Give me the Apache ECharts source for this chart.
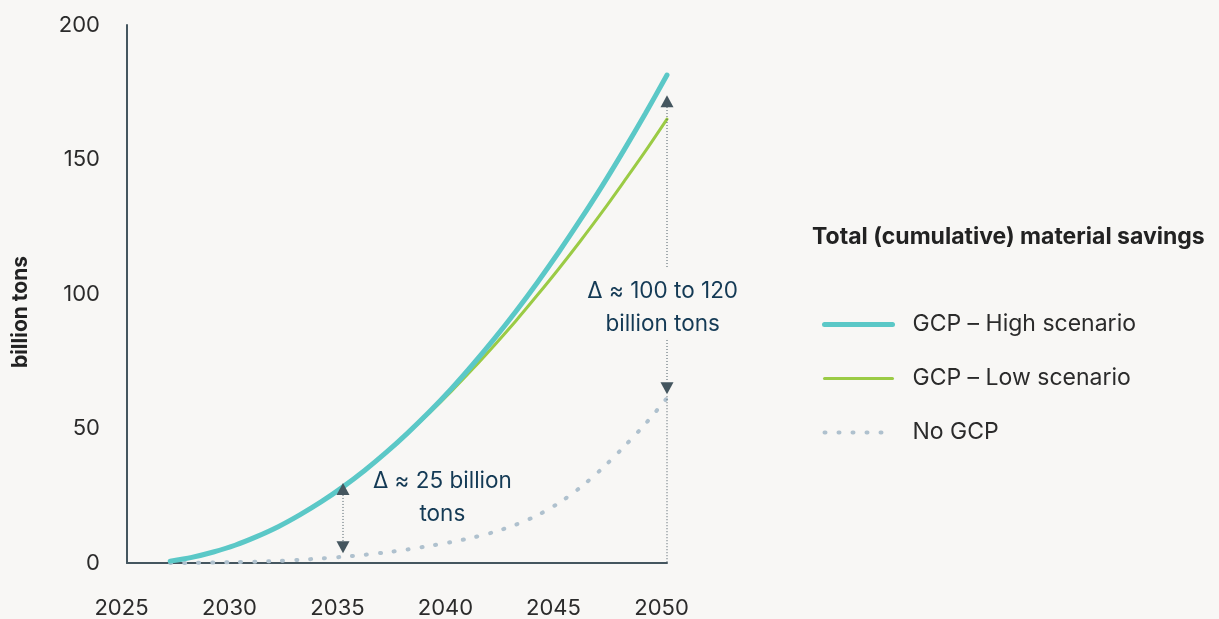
<!DOCTYPE html>
<html>
<head>
<meta charset="utf-8">
<script src="https://cdn.jsdelivr.net/npm/echarts@6/dist/echarts.min.js"></script>
<style>
html,body{margin:0;padding:0;background:#F8F7F5;}
#chart{width:1219px;height:619px;}
</style>
</head>
<body>
<div id="chart"></div>
<script>
// ---- data ----
const years = [2027,2028,2029,2030,2031,2032,2033,2034,2035,2036,2037,2038,2039,2040,2041,2042,2043,2044,2045,2046,2047,2048,2049,2050];
const highScenario = [0.7,2.1,4.1,6.6,9.8,13.5,17.9,22.8,28.3,34.4,41.1,48.4,56.2,64.6,73.7,83.3,93.5,104.3,115.7,127.7,140.2,153.4,167.1,181.4];
const lowScenario  = [0.7,2.1,4.1,6.6,9.8,13.5,17.9,22.8,28.3,34.4,41.1,48.3,55.8,63.7,72.1,80.9,90.0,99.6,109.5,119.8,130.5,141.7,153.1,165.0];
const noGcp        = [0,0.05,0.15,0.3,0.5,0.8,1.2,1.7,2.3,3.05,3.95,5.05,6.35,7.75,9.45,11.55,14.25,17.75,22.35,28.15,35.15,43.15,51.75,61.3];
const xTicks = [2025, 2050, 5];
const yTicks = [0, 200, 50];
const seriesNames = ['GCP – High scenario', 'GCP – Low scenario', 'No GCP'];
const legendTitle = 'Total (cumulative) material savings';
const yTitle = 'billion tons';
// annotations (data coordinates)
const arrowX = [2035, 2050];
const arrowUp = [27.5, 171.7];
const arrowDown = [5.9, 65.0];
const leader2035 = [[2035, 25.3], [2035, 8.2]];
const leader2050 = [[2050, 169.5], [2050, 109.7], [2050, '-'], [2050, 82.9], [2050, 67.3], [2050, '-'], [2050, 62], [2050, 0]];
const annotations = [
  {x: 2039.6, y: 24.3, text: 'Δ ≈ 25 billion\ntons'},
  {x: 2049.8, y: 95.0, text: 'Δ ≈ 100 to 120\nbillion tons'}
];

// ---- styles ----
const FONT = 'Inter, "Noto Sans", sans-serif';
const HIGH = {color: '#5BC8C7', width: 5, cap: 'round'};
const LOW = {color: '#9BCB45', width: 3, cap: 'round'};
const NOGCP = {color: '#AFC1CE', width: 4, type: [1, 13], cap: 'round'};

const chart = echarts.init(document.getElementById('chart'));
const pairs = arr => years.map((y, i) => [y, arr[i]]);
const bandDiff = years.map((y, i) => [y, +(highScenario[i] - lowScenario[i]).toFixed(2)]);

chart.setOption({
  backgroundColor: '#F8F7F5',
  animation: false,
  textStyle: {fontFamily: FONT},
  title: {
    text: legendTitle,
    left: 807, top: 221,
    textStyle: {fontFamily: FONT, fontSize: 23, fontWeight: 'bold', color: '#222'}
  },
  legend: {
    data: [
      {name: seriesNames[0], lineStyle: HIGH},
      {name: seriesNames[1], lineStyle: LOW},
      {name: seriesNames[2], lineStyle: NOGCP}
    ],
    orient: 'vertical',
    left: 817, top: 308,
    itemWidth: 68, itemHeight: 14,
    itemGap: 31,
    itemStyle: {opacity: 0},
    textStyle: {fontFamily: FONT, fontSize: 23, color: '#2b2b2b', padding: [0, 0, 0, 15]}
  },
  grid: {left: 127, right: 552, top: 25, bottom: 56, containLabel: false},
  xAxis: {
    type: 'value', min: xTicks[0], max: xTicks[1], interval: xTicks[2],
    axisLine: {show: true, lineStyle: {color: '#45565F', width: 2}},
    axisTick: {show: false},
    splitLine: {show: false},
    axisLabel: {fontFamily: FONT, fontSize: 22, color: '#2b2b2b', margin: 34, padding: [0, 11, 0, 0],
      formatter: v => String(v)}
  },
  yAxis: {
    type: 'value', min: yTicks[0], max: yTicks[1], interval: yTicks[2],
    name: yTitle, nameLocation: 'middle', nameGap: 96, nameRotate: 90,
    nameTextStyle: {fontFamily: FONT, fontSize: 21, fontWeight: 'bold', color: '#222', padding: [0, 36, 0, 0]},
    axisLine: {show: true, lineStyle: {color: '#45565F', width: 2}},
    axisTick: {show: false},
    splitLine: {show: false},
    axisLabel: {fontFamily: FONT, fontSize: 22, color: '#2b2b2b', margin: 27}
  },
  series: [
    {name: 'bandBase', type: 'line', stack: 'band', data: pairs(lowScenario), smooth: 0.3,
     symbol: 'none', lineStyle: {opacity: 0}, silent: true, z: 1},
    {name: 'band', type: 'line', stack: 'band', data: bandDiff, smooth: 0.3,
     symbol: 'none', lineStyle: {opacity: 0}, areaStyle: {color: '#E3E5E4', opacity: 1}, silent: true, z: 1},
    {name: seriesNames[2], type: 'line', data: pairs(noGcp), smooth: 0.3, symbol: 'none',
     lineStyle: NOGCP, itemStyle: {color: NOGCP.color}, z: 2},
    {name: seriesNames[1], type: 'line', data: pairs(lowScenario), smooth: 0.3, symbol: 'none',
     lineStyle: LOW, itemStyle: {color: LOW.color}, z: 3},
    {name: seriesNames[0], type: 'line', data: pairs(highScenario), smooth: 0.3, symbol: 'none',
     lineStyle: HIGH, itemStyle: {color: HIGH.color}, z: 4},
    {name: 'leader2035', type: 'line', data: leader2035, symbol: 'none', connectNulls: false,
     lineStyle: {color: '#4A5A63', width: 1, type: [1, 2]}, z: 5, silent: true},
    {name: 'leader2050', type: 'line', data: leader2050, symbol: 'none', connectNulls: false,
     lineStyle: {color: '#4A5A63', width: 1, type: [1, 2]}, z: 5, silent: true},
    {name: 'arrowsUp', type: 'scatter', data: arrowX.map((x, i) => [x, arrowUp[i]]),
     symbol: 'triangle', symbolSize: [13, 12], itemStyle: {color: '#45565F', opacity: 1}, z: 6, silent: true},
    {name: 'arrowsDown', type: 'scatter', data: arrowX.map((x, i) => [x, arrowDown[i]]),
     symbol: 'triangle', symbolRotate: 180, symbolSize: [13, 12], itemStyle: {color: '#45565F', opacity: 1}, z: 6, silent: true},
    {name: 'notes', type: 'scatter', data: annotations.map(a => ({value: [a.x, a.y], text: a.text})),
     symbolSize: 0, z: 7, silent: true, itemStyle: {opacity: 1},
     label: {show: true, position: 'inside', formatter: p => p.data.text,
       fontFamily: FONT, fontSize: 22.5, color: '#143A55', lineHeight: 33, align: 'center', verticalAlign: 'middle'}}
  ]
});
</script>
</body>
</html>
